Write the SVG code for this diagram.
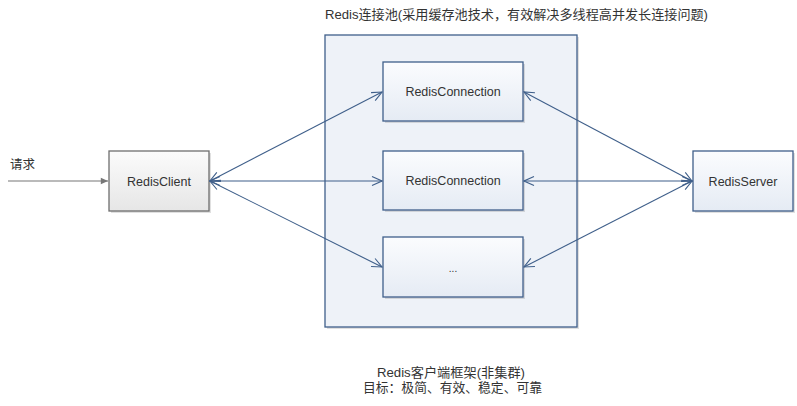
<svg xmlns="http://www.w3.org/2000/svg" width="797" height="406" viewBox="0 0 797 406">
<style>
.t{font-family:"Liberation Sans","Noto Sans CJK SC",sans-serif;font-size:13px;fill:#333}
.lbl{font-family:"Liberation Sans",Arial,sans-serif;font-size:12.5px;fill:#333;text-anchor:middle}
.blue{fill:url(#gb);stroke:#3f5f8a;stroke-width:1.3}
.gray{fill:url(#gg);stroke:#6e6e6e;stroke-width:1.3}
.sh{fill:#000;opacity:0.12}
.c{stroke:#3f5f8a;stroke-width:1.1;fill:none;marker-start:url(#ah);marker-end:url(#ah)}
</style>
<defs>
<linearGradient id="gb" x1="0" y1="0" x2="0" y2="1"><stop offset="0" stop-color="#fbfcfe"/><stop offset="1" stop-color="#e5ebf4"/></linearGradient>
<linearGradient id="gg" x1="0" y1="0" x2="0" y2="1"><stop offset="0" stop-color="#fbfbfb"/><stop offset="1" stop-color="#e6e6e6"/></linearGradient>
<marker id="ah" viewBox="0 0 12 12" refX="11" refY="6" markerWidth="12" markerHeight="12" markerUnits="userSpaceOnUse" orient="auto-start-reverse">
<path d="M1,1.5 L11,6 L1,10.5" fill="none" stroke="#3f5f8a" stroke-width="1.1"/>
</marker>
<marker id="fa" viewBox="0 0 10 10" refX="9" refY="5" markerWidth="9" markerHeight="9" markerUnits="userSpaceOnUse" orient="auto">
<path d="M1,1.5 L9,5 L1,8.5 z" fill="#777"/>
</marker>
</defs>
<rect width="797" height="406" fill="#fff"/>
<g id="pool">
<rect class="sh" x="327" y="37" width="252" height="292"/>
<rect x="325" y="35" width="252" height="292" fill="#eef2f8" stroke="#3f5f8a" stroke-width="1.3"/>
<text class="t" x="325" y="19" textLength="383" lengthAdjust="spacingAndGlyphs">Redis连接池(采用缓存池技术，有效解决多线程高并发长连接问题)</text>
</g>
<g id="conn1">
<rect class="sh" x="385" y="64" width="140" height="59"/>
<rect class="blue" x="383" y="62" width="140" height="59"/>
<text class="lbl" x="453" y="96">RedisConnection</text>
</g>
<g id="conn2">
<rect class="sh" x="385" y="153" width="140" height="59"/>
<rect class="blue" x="383" y="151" width="140" height="59"/>
<text class="lbl" x="453" y="185">RedisConnection</text>
</g>
<g id="conn3">
<rect class="sh" x="385" y="239" width="140" height="60"/>
<rect class="blue" x="383" y="237" width="140" height="60"/>
<text class="lbl" x="453" y="272" fill="#666" style="font-size:10px">...</text>
</g>
<g id="client">
<rect class="sh" x="111" y="153" width="100" height="60"/>
<rect class="gray" x="109" y="151" width="100" height="60"/>
<text class="lbl" x="159" y="186">RedisClient</text>
</g>
<g id="server">
<rect class="sh" x="695" y="153" width="100" height="60"/>
<rect class="blue" x="693" y="151" width="100" height="60"/>
<text class="lbl" x="743" y="186">RedisServer</text>
</g>
<g id="connectors">
<line x1="8" y1="181" x2="108" y2="181" stroke="#777" stroke-width="1.1" marker-end="url(#fa)"/>
<line class="c" x1="210" y1="181" x2="382" y2="92"/>
<line class="c" x1="210" y1="181" x2="382" y2="181"/>
<line class="c" x1="210" y1="181" x2="382" y2="267"/>
<line class="c" x1="524" y1="92" x2="692" y2="181"/>
<line class="c" x1="524" y1="181" x2="692" y2="181"/>
<line class="c" x1="524" y1="267" x2="692" y2="181"/>
</g>
<g id="labels">
<text class="t" x="10" y="169" style="font-size:12.5px">请求</text>
<text class="t" x="377" y="377" textLength="148" lengthAdjust="spacingAndGlyphs">Redis客户端框架(非集群)</text>
<text class="t" x="363" y="392" textLength="179" lengthAdjust="spacingAndGlyphs">目标：极简、有效、稳定、可靠</text>
</g>
</svg>
